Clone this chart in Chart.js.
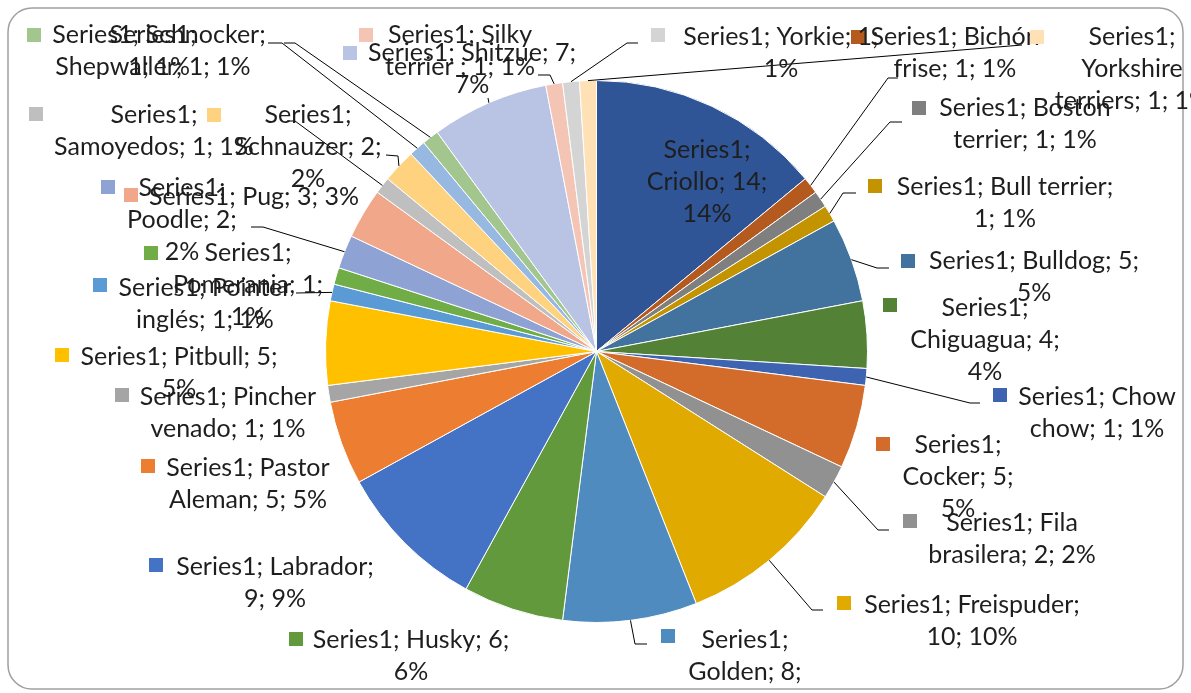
<!DOCTYPE html>
<html>
<head>
<meta charset="utf-8">
<script src="https://cdn.jsdelivr.net/npm/chart.js@4.4.1/dist/chart.umd.min.js"></script>
<style>
  html, body { margin: 0; padding: 0; background: #ffffff; }
  #wrap { width: 1191px; height: 693px; position: relative; }
  canvas { display: block; }
</style>
</head>
<body>
<div id="wrap"><canvas id="c" width="1191" height="693"></canvas></div>
<script>
// ---- data ----
const seriesName = 'Series1';
const categories = ['Criollo','Bichón frise','Boston terrier','Bull terrier','Bulldog','Chiguagua','Chow chow','Cocker','Fila brasilera','Freispuder','Golden','Husky','Labrador','Pastor Aleman','Pincher venado','Pitbull','Pointer inglés','Pomerania','Poodle','Pug','Samoyedos','Schnauzer','Schnocker','Shepwaller','Shitzue','Silky terrier ','Yorkie','Yorkshire terriers'];
const values = [14,1,1,1,5,4,1,5,2,10,8,6,9,5,1,5,1,1,2,3,1,2,1,1,7,1,1,1];

// ---- style ----
const sliceColors = ['#2F5597','#B55A1F','#7F7F7F','#C49400','#42729E','#538135','#3E63B0','#D36C2B','#919191','#E0AA00','#4F8BBE','#63993D','#4472C4','#ED7D31','#A5A5A5','#FFC000','#5B9BD5','#70AD47','#8FA2D4','#F1A78A','#BFBFBF','#FFD280','#97B8E0','#A3C68F','#B9C3E3','#F4C5B5','#D4D4D4','#FFE1B5'];

// label layout (text centre x, first line y, words per line, key box, leader bend points from slice outward)
const labelLayout = [
  {cx:707,  y:150, wrap:[1,2,1], key:null},
  {cx:955,  y:37,  wrap:[2,3],   key:[851,30],  leader:[[888,78],[898,78]]},
  {cx:1025, y:108, wrap:[2,3],   key:[912,101], leader:[[890,122],[902,122]]},
  {cx:1005, y:187, wrap:[3,2],   key:[868,179], leader:[[843,193],[856,193]]},
  {cx:1034, y:261, wrap:[3,1],   key:[901,254], leader:[[877,268],[889,268]]},
  {cx:985,  y:308, wrap:[1,2,1], key:[883,298]},
  {cx:1097, y:397, wrap:[2,3],   key:[993,388], leader:[[970,403],[980,403]]},
  {cx:958,  y:445, wrap:[1,2,1], key:[876,437]},
  {cx:1012, y:523, wrap:[2,3],   key:[903,514], leader:[[878,530],[889,530]]},
  {cx:972,  y:605, wrap:[2,2],   key:[837,596], leader:[[812,610],[823,610]]},
  {cx:745,  y:640, wrap:[1,2,1], key:[661,629], leader:[[635,644],[647,644]]},
  {cx:411,  y:640, wrap:[3,1],   key:[289,632]},
  {cx:275,  y:567, wrap:[2,2],   key:[149,558]},
  {cx:248,  y:468, wrap:[2,3],   key:[141,459]},
  {cx:228,  y:397, wrap:[2,3],   key:[115,388]},
  {cx:179,  y:357, wrap:[3,1],   key:[55,348]},
  {cx:205,  y:288, wrap:[2,3],   key:[93,278],  leader:[[296,293]]},
  {cx:248,  y:253, wrap:[1,2,1], key:[144,246]},
  {cx:182,  y:188, wrap:[1,2,1], key:[101,180], leader:[[263,227],[251,227]]},
  {cx:254,  y:197, wrap:[4],     key:[124,188]},
  {cx:154,  y:115, wrap:[1,3],   key:[29,107],  leader:[[295,121],[287,121]]},
  {cx:308,  y:115, wrap:[1,2,1], key:[207,108], leader:[[398,156],[386,155]]},
  {cx:159,  y:35,  wrap:[2,2],   key:[27,28],   leader:[[282,43],[268,43]]},
  {cx:153,  y:35,  wrap:[1,3],   key:[27,28],   leader:[[295,43],[284,43]]},
  {cx:472,  y:53,  wrap:[3,1],   key:[343,46],  leader:[[488,98]]},
  {cx:460,  y:35,  wrap:[2,4],   key:[359,28],  leader:[[550,75],[538,75]]},
  {cx:781,  y:37,  wrap:[3,1],   key:[651,28],  leader:[[627,43],[638,43]]},
  {cx:1132, y:37,  wrap:[1,1,3], key:[1030,30], leader:[[1022,45]]}
];
const FONT = '25px Lato';
const LINE_H = 32;
const KEY = 14;

const total = values.reduce((a, b) => a + b, 0);

const framePlugin = {
  id: 'frame',
  beforeDraw(chart) {
    const ctx = chart.ctx;
    ctx.save();
    ctx.fillStyle = '#ffffff';
    ctx.fillRect(0, 0, chart.width, chart.height);
    ctx.beginPath();
    ctx.roundRect(8, 8, 1175, 681, 24);
    ctx.strokeStyle = '#A0A0A0';
    ctx.lineWidth = 1.5;
    ctx.stroke();
    ctx.restore();
  }
};

const labelPlugin = {
  id: 'sliceLabels',
  afterDatasetsDraw(chart) {
    const ctx = chart.ctx;
    const meta = chart.getDatasetMeta(0);
    ctx.save();
    // leader lines
    ctx.strokeStyle = '#000000';
    ctx.lineWidth = 1;
    meta.data.forEach((arc, i) => {
      const L = labelLayout[i];
      if (!L || !L.leader) return;
      const p = arc.getProps(['x','y','startAngle','endAngle','outerRadius'], true);
      const mid = (p.startAngle + p.endAngle) / 2;
      const ex = p.x + Math.cos(mid) * p.outerRadius;
      const ey = p.y + Math.sin(mid) * p.outerRadius;
      ctx.beginPath();
      ctx.moveTo(ex, ey);
      L.leader.forEach(pt => ctx.lineTo(pt[0], pt[1]));
      ctx.stroke();
    });
    // labels
    ctx.font = FONT;
    ctx.textAlign = 'center';
    ctx.textBaseline = 'middle';
    meta.data.forEach((arc, i) => {
      const L = labelLayout[i];
      if (!L) return;
      const pct = Math.round(values[i] / total * 100);
      const full = seriesName + '; ' + categories[i] + '; ' + values[i] + '; ' + pct + '%';
      const words = full.split(' ');
      const lines = [];
      let k = 0;
      L.wrap.forEach((n, j) => {
        const take = (j === L.wrap.length - 1) ? words.length - k : n;
        lines.push(words.slice(k, k + take).join(' '));
        k += take;
      });
      if (L.key) {
        ctx.fillStyle = sliceColors[i];
        ctx.fillRect(L.key[0], L.key[1], KEY, KEY);
      }
      ctx.fillStyle = '#1E1E1E';
      lines.forEach((t, j) => ctx.fillText(t, L.cx, L.y + j * LINE_H));
    });
    ctx.restore();
  }
};

new Chart(document.getElementById('c'), {
  type: 'pie',
  data: {
    labels: categories,
    datasets: [{
      label: seriesName,
      data: values,
      backgroundColor: sliceColors,
      borderColor: '#ffffff',
      borderWidth: 1
    }]
  },
  options: {
    responsive: false,
    devicePixelRatio: 1,
    animation: false,
    layout: { padding: { left: 325, right: 323, top: 80, bottom: 70 } },
    plugins: { legend: { display: false }, tooltip: { enabled: false } }
  },
  plugins: [framePlugin, labelPlugin]
});
</script>
</body>
</html>
